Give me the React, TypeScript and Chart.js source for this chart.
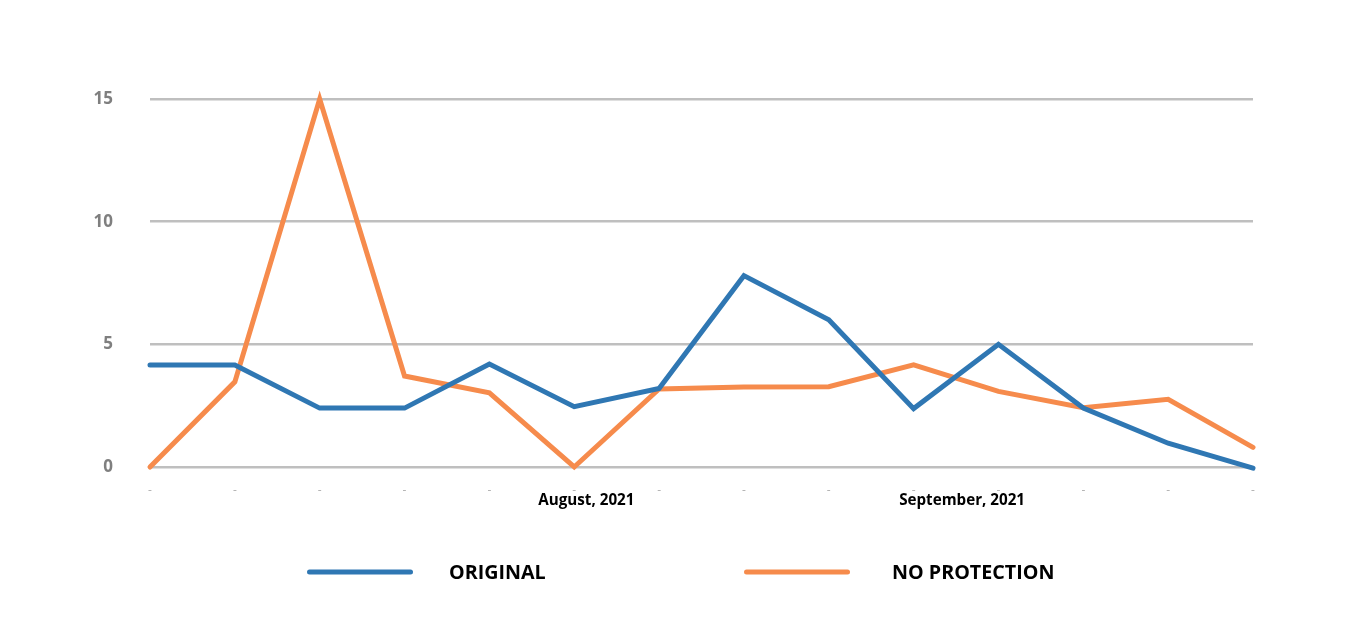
import React, { useEffect, useRef } from "react";
import { Chart, registerables } from "chart.js";

Chart.register(...registerables);

// Weekly observation dates (categories)
const weekDates = [
  "2021-06-26", "2021-07-03", "2021-07-10", "2021-07-17", "2021-07-24",
  "2021-07-31", "2021-08-07", "2021-08-14", "2021-08-21", "2021-08-28",
  "2021-09-04", "2021-09-11", "2021-09-18", "2021-09-25",
];

// Series values
const originalValues = [4.16, 4.16, 2.4, 2.4, 4.2, 2.46, 3.2, 7.8, 6.0, 2.38, 5.0, 2.4, 0.97, -0.05];
const noProtectionValues = [0, 3.47, 15, 3.71, 3.02, 0, 3.18, 3.26, 3.27, 4.16, 3.08, 2.42, 2.76, 0.8];

// Month tick labels on the date axis
const monthTickDates = ["2021-08-01", "2021-09-01"];
const monthTickLabels = ["August, 2021", "September, 2021"];

// Value axis ticks
const yTickValues = [0, 5, 10, 15];

const seriesNames = ["ORIGINAL", "NO PROTECTION"];
const seriesColors = ["#2F77B3", "#F68B4C"];

const FONT = "'Open Sans', 'Noto Sans', sans-serif";

const dayMs = 86400000;
const monthPositions = monthTickDates.map(
  (d) => (Date.parse(d) - Date.parse(weekDates[0])) / (7 * dayMs)
);

// legend layout offsets from the canvas centre
const legendLineOffsets = [-366, 71];
const legendTextOffsets = [-224, 219];

const wideLegend = {
  id: "wideLegend",
  afterDraw(chart: any) {
    const { ctx } = chart;
    const area = chart.chartArea;
    const y = area.bottom + 105;
    const cx = chart.width / 2;
    chart.data.datasets.forEach((ds: any, i: number) => {
      const x0 = cx + legendLineOffsets[i];
      ctx.save();
      ctx.strokeStyle = ds.borderColor;
      ctx.lineWidth = 5;
      ctx.lineCap = "round";
      ctx.beginPath();
      ctx.moveTo(x0 + 2.5, y);
      ctx.lineTo(x0 + 103.5, y);
      ctx.stroke();
      ctx.font = `bold 19.7px ${FONT}`;
      ctx.fillStyle = "#000000";
      ctx.textBaseline = "middle";
      ctx.textAlign = "left";
      ctx.fillText(ds.label, cx + legendTextOffsets[i], y + 1);
      ctx.restore();
    });
  },
};

export default function App() {
  const canvasRef = useRef<HTMLCanvasElement | null>(null);

  useEffect(() => {
    if (!canvasRef.current) return;
    const chart = new Chart(canvasRef.current, {
      type: "line",
      data: {
        labels: weekDates,
        datasets: [
          {
            label: seriesNames[0],
            data: originalValues,
            borderColor: seriesColors[0],
            backgroundColor: seriesColors[0],
            borderWidth: 5,
            pointRadius: 0,
            tension: 0,
            borderCapStyle: "round",
            borderJoinStyle: "miter",
            clip: false as any,
          },
          {
            label: seriesNames[1],
            data: noProtectionValues,
            borderColor: seriesColors[1],
            backgroundColor: seriesColors[1],
            borderWidth: 5,
            pointRadius: 0,
            tension: 0,
            borderCapStyle: "round",
            borderJoinStyle: "miter",
            clip: false as any,
          },
        ],
      },
      options: {
        animation: false,
        responsive: true,
        maintainAspectRatio: false,
        events: [],
        layout: { padding: { left: 90, right: 93, top: 99, bottom: 119 } },
        plugins: {
          legend: { display: false },
          tooltip: { enabled: false },
        },
        scales: {
          x: {
            type: "category",
            weight: 0,
            grid: { display: false, drawTicks: false },
            border: { display: false },
            ticks: {
              display: true,
              autoSkip: false,
              maxRotation: 0,
              padding: 16,
              color: "#B0B0B0",
              font: { family: FONT, size: 12 },
              callback: () => "-",
            },
            afterFit: (s: any) => {
              s.height = 26;
            },
          },
          x2: {
            type: "linear",
            axis: "x",
            position: "bottom",
            weight: 1,
            min: 0,
            max: weekDates.length - 1,
            grid: { display: false, drawTicks: false },
            border: { display: false },
            afterBuildTicks: (s: any) => {
              s.ticks = monthPositions.map((v) => ({ value: v }));
            },
            ticks: {
              autoSkip: false,
              maxRotation: 0,
              padding: 0,
              color: "#000000",
              font: { family: FONT, size: 15.2, weight: "bold", lineHeight: 1 },
              callback: (_v: any, i: number) => monthTickLabels[i],
            },
            afterFit: (s: any) => {
              s.height = 26;
            },
          },
          y: {
            min: 0,
            max: 15,
            grid: { color: "#BFBFBF", lineWidth: 2.5, drawTicks: false },
            border: { display: false },
            afterBuildTicks: (s: any) => {
              s.ticks = yTickValues.map((v) => ({ value: v }));
            },
            ticks: {
              padding: 37,
              color: "#7F7F7F",
              font: { family: FONT, size: 17, weight: "bold" },
            },
            afterFit: (s: any) => {
              s.width = 60;
            },
          },
        },
      } as any,
      plugins: [wideLegend],
    });
    return () => chart.destroy();
  }, []);

  return (
    <div
      style={{
        position: "fixed",
        left: 0,
        top: 0,
        width: "1346px",
        height: "638px",
        background: "#ffffff",
      }}
    >
      <canvas ref={canvasRef} />
    </div>
  );
}
